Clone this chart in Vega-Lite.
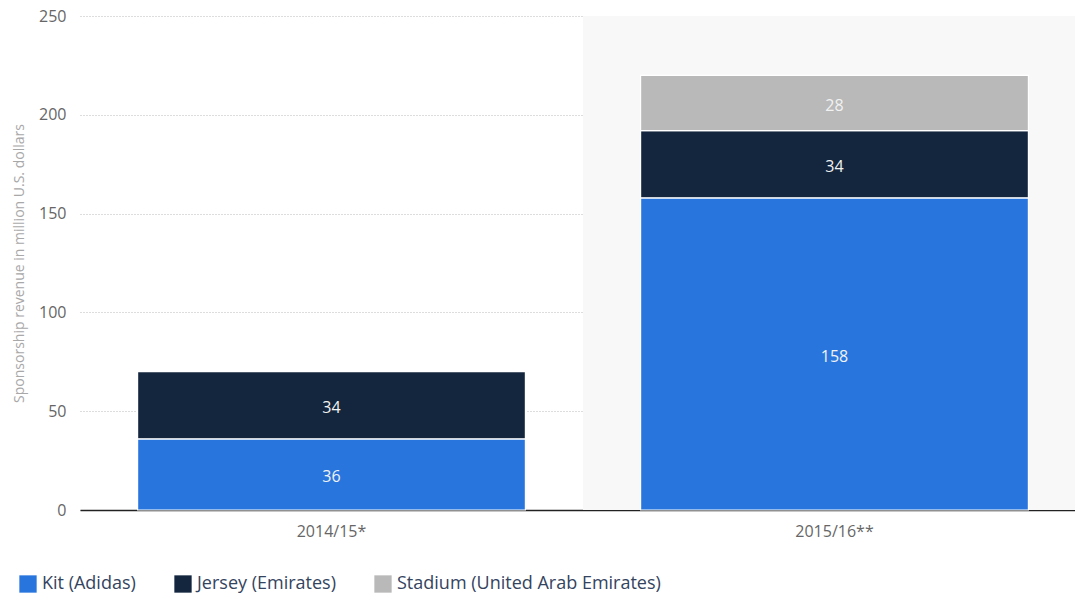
{
  "$schema": "https://vega.github.io/schema/vega-lite/v6.json",
  "autosize": "none",
  "width": 1006,
  "height": 494,
  "padding": {"left": 80, "top": 16, "right": 0, "bottom": 89},
  "background": "white",
  "config": {
    "font": "Open Sans",
    "view": {"stroke": null}
  },
  "datasets": {
    "main": [
      {"season": "2014/15*", "type": "Kit (Adidas)", "ord": 1, "value": 36},
      {"season": "2014/15*", "type": "Jersey (Emirates)", "ord": 2, "value": 34},
      {"season": "2015/16**", "type": "Kit (Adidas)", "ord": 1, "value": 158},
      {"season": "2015/16**", "type": "Jersey (Emirates)", "ord": 2, "value": 34},
      {"season": "2015/16**", "type": "Stadium (United Arab Emirates)", "ord": 3, "value": 28}
    ],
    "bg": [
      {"season": "2014/15*", "top": 0},
      {"season": "2015/16**", "top": 250}
    ]
  },
  "layer": [
    {
      "data": {"name": "bg"},
      "mark": {"type": "bar", "color": "#f8f8f8"},
      "encoding": {
        "x": {"field": "season", "type": "nominal", "scale": {"paddingInner": 0, "paddingOuter": 0}, "axis": null},
        "y": {
          "field": "top", "type": "quantitative",
          "scale": {"domain": [0, 250], "nice": false, "zero": true},
          "title": "Sponsorship revenue in million U.S. dollars",
          "axis": {"values": [0, 50, 100, 150, 200, 250], "labelFontSize": 16, "labelColor": "#666666", "labelPadding": 14, "ticks": false, "domain": false, "gridDash": [1, 2], "gridColor": "#bbbbbb", "titleFontSize": 14, "titleFontWeight": "normal", "titleColor": "#a8a8a8", "titlePadding": 12}
        }
      }
    },
    {
      "data": {"name": "main"},
      "layer": [
        {
          "mark": {"type": "bar", "stroke": "white", "strokeWidth": 1.2},
          "encoding": {
            "x": {
              "field": "season", "type": "nominal", "title": null,
              "scale": {"paddingInner": 0.229, "paddingOuter": 0.1145},
              "axis": {"labelAngle": 0, "labelFontSize": 16, "labelColor": "#666666", "labelPadding": 13, "ticks": false, "domainColor": "#222222", "domainWidth": 1.5, "grid": false}
            },
            "y": {
              "field": "value", "type": "quantitative", "stack": "zero",
              "scale": {"domain": [0, 250], "nice": false}
            },
            "color": {
              "field": "type", "type": "nominal",
              "scale": {"domain": ["Kit (Adidas)", "Jersey (Emirates)", "Stadium (United Arab Emirates)"], "range": ["#2876dd", "#13263d", "#b9b9b9"]},
              "legend": {"title": null, "orient": "none", "direction": "horizontal", "legendX": -61, "legendY": 559, "symbolType": "square", "symbolSize": 300, "symbolStrokeWidth": 0, "labelFontSize": 18, "labelColor": "#34445e", "labelLimit": 0, "columnPadding": 38, "labelOffset": 5}
            },
            "order": {"field": "ord", "type": "quantitative"}
          }
        },
        {
          "transform": [
            {"stack": "value", "groupby": ["season"], "sort": [{"field": "ord", "order": "ascending"}], "as": ["v0", "v1"]},
            {"calculate": "(datum.v0 + datum.v1) / 2", "as": "mid"}
          ],
          "mark": {"type": "text", "color": "#f2f2f2", "fontSize": 16, "baseline": "middle", "dy": 3},
          "encoding": {
            "x": {"field": "season", "type": "nominal"},
            "y": {"field": "mid", "type": "quantitative", "scale": {"domain": [0, 250], "nice": false}},
            "text": {"field": "value", "type": "quantitative"}
          }
        }
      ]
    }
  ],
  "resolve": {"scale": {"x": "independent"}}
}
